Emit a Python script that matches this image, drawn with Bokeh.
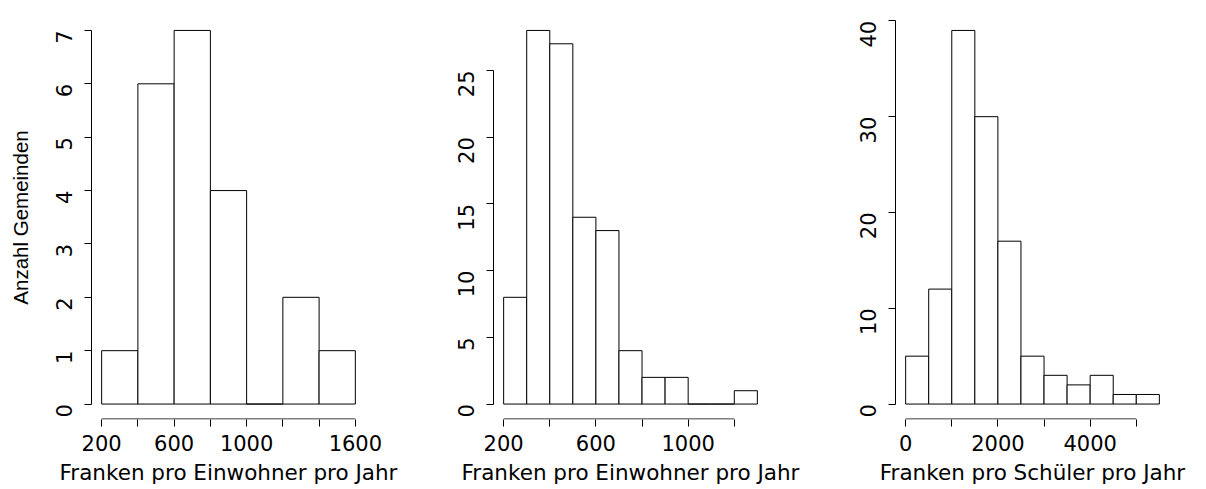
import math
from bokeh.plotting import figure
from bokeh.models import Range1d, FixedTicker
from bokeh.layouts import row
from bokeh.embed import file_html
from bokeh.resources import INLINE

# ---- data ----
edges1 = [200, 400, 600, 800, 1000, 1200, 1400, 1600]
counts1 = [1, 6, 7, 4, 0, 2, 1]
xticks1 = [200, 400, 600, 800, 1000, 1200, 1400, 1600]
xshown1 = [200, 600, 1000, 1600]
yticks1 = [0, 1, 2, 3, 4, 5, 6, 7]
xtitle1 = "Franken pro Einwohner pro Jahr"
ytitle1 = "Anzahl Gemeinden"

edges2 = [200, 300, 400, 500, 600, 700, 800, 900, 1000, 1100, 1200, 1300]
counts2 = [8, 28, 27, 14, 13, 4, 2, 2, 0, 0, 1]
xticks2 = [200, 400, 600, 800, 1000, 1200]
xshown2 = [200, 600, 1000]
yticks2 = [0, 5, 10, 15, 20, 25]
xtitle2 = "Franken pro Einwohner pro Jahr"

edges3 = [0, 500, 1000, 1500, 2000, 2500, 3000, 3500, 4000, 4500, 5000, 5500]
counts3 = [5, 12, 39, 30, 17, 5, 3, 2, 3, 1, 1]
xticks3 = [0, 1000, 2000, 3000, 4000, 5000]
xshown3 = [0, 2000, 4000]
yticks3 = [0, 10, 20, 30, 40]
xtitle3 = "Franken pro Schüler pro Jahr"

FONT = "DejaVu Sans"
TICK_SIZE = "21px"
TITLE_SIZE = "21.5px"


def panel(edges, counts, xticks, xshown, yticks, xtitle, ytitle=None):
    x0, x1 = min(edges), max(edges)
    y0, y1 = 0, max(counts)
    dx = 0.04 * (x1 - x0)
    dy = 0.04 * (y1 - y0)
    ybottom = y0 - dy
    pad = (y1 - y0 + 2 * dy) / 808.0  # about half a pixel, keeps the axis line inside the frame
    p = figure(width=402, height=489, output_backend="svg", toolbar_location=None,
               x_range=Range1d(x0 - dx, x1 + dx),
               y_range=Range1d(ybottom - pad, y1 + dy),
               min_border_left=91, min_border_right=37, min_border_top=15,
               min_border_bottom=70)
    p.quad(left=edges[:-1], right=edges[1:], bottom=[0] * len(counts), top=counts,
           fill_color="white", line_color="black", line_width=1)
    # R-style x axis line spanning only the tick range
    p.segment(x0=[min(xticks)], y0=[ybottom], x1=[max(xticks)], y1=[ybottom],
              line_color="black", line_width=1)
    p.grid.visible = False
    p.outline_line_color = None
    p.background_fill_color = "white"
    p.border_fill_color = "white"

    xa = p.xaxis[0]
    xa.ticker = FixedTicker(ticks=xticks, minor_ticks=[])
    xa.major_label_overrides = {t: (str(t) if t in xshown else "") for t in xticks}
    xa.axis_line_color = None
    xa.axis_label = xtitle

    ya = p.yaxis[0]
    ya.ticker = FixedTicker(ticks=yticks, minor_ticks=[])
    ya.bounds = (min(yticks), max(yticks))
    ya.axis_line_color = "black"
    ya.axis_line_width = 1
    ya.major_label_orientation = math.pi / 2
    if ytitle:
        ya.axis_label = ytitle
        ya.axis_label_text_font = "Liberation Sans"
        ya.axis_label_text_font_size = "20.5px"
        ya.axis_label_text_font_style = "normal"
        ya.axis_label_text_color = "black"
        ya.axis_label_standoff = 14

    for ax in (xa, ya):
        ax.major_tick_line_color = "black"
        ax.major_tick_line_width = 1
        ax.major_tick_out = 7
        ax.major_tick_in = 0
        ax.minor_tick_line_color = None
        ax.major_label_text_font = FONT
        ax.major_label_text_font_size = TICK_SIZE
        ax.major_label_text_color = "black"
    xa.major_label_standoff = 8
    ya.major_label_standoff = 20
    xa.axis_label_text_font = FONT
    xa.axis_label_text_font_size = TITLE_SIZE
    xa.axis_label_text_font_style = "normal"
    xa.axis_label_text_color = "black"
    xa.axis_label_standoff = 6
    return p


p1 = panel(edges1, counts1, xticks1, xshown1, yticks1, xtitle1, ytitle1)
p2 = panel(edges2, counts2, xticks2, xshown2, yticks2, xtitle2)
p3 = panel(edges3, counts3, xticks3, xshown3, yticks3, xtitle3)

layout = row(p1, p2, p3)
open("out.html", "w").write(file_html(layout, INLINE))
